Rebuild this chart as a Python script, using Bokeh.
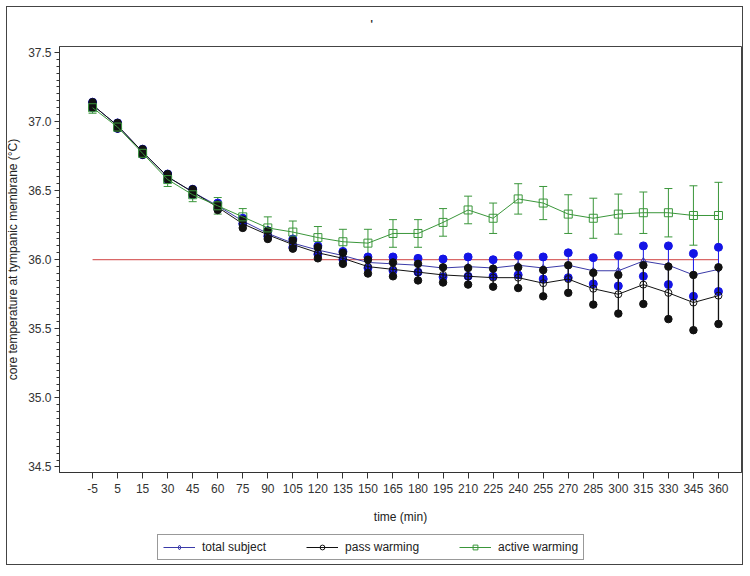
import numpy as np
from bokeh.plotting import figure
from bokeh.layouts import column
from bokeh.models import (Range1d, FixedTicker, Legend, LegendItem, Whisker,
                          TeeHead, ColumnDataSource, Title)
from bokeh.embed import file_html
from bokeh.resources import INLINE

# ---------------- data ----------------
time_labels = ["-5", "5", "15", "30", "45", "60", "75", "90", "105", "120", "135",
               "150", "165", "180", "195", "210", "225", "240", "255", "270",
               "285", "300", "315", "330", "345", "360"]

total_mean = [37.12, 36.97, 36.78, 36.60, 36.49, 36.39, 36.28, 36.19, 36.12, 36.07,
              36.03, 35.98, 35.97, 35.96, 35.94, 35.95, 35.94, 35.96, 35.94, 35.96,
              35.92, 35.92, 35.99, 35.96, 35.89, 35.93]
total_err = [0.02, 0.02, 0.02, 0.02, 0.02, 0.02, 0.02, 0.02, 0.03, 0.03,
             0.03, 0.04, 0.05, 0.05, 0.065, 0.07, 0.06, 0.07, 0.08, 0.09,
             0.095, 0.11, 0.11, 0.14, 0.155, 0.16]

pass_mean = [37.12, 36.97, 36.78, 36.60, 36.49, 36.38, 36.26, 36.18, 36.11, 36.05,
             36.01, 35.95, 35.93, 35.91, 35.89, 35.88, 35.87, 35.87, 35.83, 35.86,
             35.79, 35.75, 35.82, 35.76, 35.69, 35.74]
pass_err = [0.02, 0.02, 0.02, 0.02, 0.02, 0.02, 0.03, 0.03, 0.03, 0.04,
            0.04, 0.05, 0.05, 0.06, 0.055, 0.06, 0.065, 0.075, 0.095, 0.10,
            0.115, 0.14, 0.14, 0.19, 0.20, 0.205]

active_mean = [37.10, 36.96, 36.77, 36.58, 36.47, 36.39, 36.31, 36.23, 36.20, 36.16,
               36.13, 36.12, 36.19, 36.19, 36.27, 36.36, 36.30, 36.44, 36.41, 36.33,
               36.30, 36.33, 36.34, 36.34, 36.32, 36.32]
active_err = [0.04, 0.03, 0.03, 0.05, 0.05, 0.06, 0.06, 0.08, 0.08, 0.08,
              0.09, 0.10, 0.10, 0.10, 0.10, 0.10, 0.11, 0.11, 0.12, 0.14,
              0.145, 0.145, 0.15, 0.175, 0.215, 0.24]

reference_temp = 36.0
y_tick_values = [34.5, 35.0, 35.5, 36.0, 36.5, 37.0, 37.5]
y_tick_labels = ["34.5", "35.0", "35.5", "36.0", "36.5", "37.0", "37.5"]
series_names = ["total subject", "pass warming", "active warming"]

# ---------------- styling ----------------
FONT = "Liberation Sans"
BLUE_LINE = "#3a3aa8"
BLUE_DOT = "#1414e6"
BLACK = "#111111"
GREEN = "#3a963a"
RED = "#d04040"
AXIS = "#333333"

xs = np.arange(len(time_labels))

def src(mean, err):
    m = np.array(mean)
    e = np.array(err)
    return ColumnDataSource(dict(x=xs, y=m, lo=m - e, hi=m + e))

s_total = src(total_mean, total_err)
s_pass = src(pass_mean, pass_err)
s_active = src(active_mean, active_err)

p = figure(width=749, height=528, output_backend="svg", toolbar_location=None,
           x_range=Range1d(-1.32, 25.92), y_range=Range1d(34.46, 37.543),
           min_border_left=59, min_border_right=8, min_border_top=44,
           min_border_bottom=56, background_fill_color="white",
           border_fill_color=None)
p.outline_line_color = "#444444"
p.outline_line_width = 1
p.xgrid.visible = False
p.ygrid.visible = False

# small stray mark at the top of the reference image
p.add_layout(Title(text="'", align="left", offset=311, standoff=33,
                   text_font=FONT, text_font_size="10px",
                   text_font_style="bold", text_color="#222222"), "above")

# axes
p.xaxis.ticker = FixedTicker(ticks=list(xs))
p.xaxis.major_label_overrides = {int(i): lab for i, lab in zip(xs, time_labels)}
p.xaxis.minor_tick_line_color = None
p.xaxis.major_tick_in = 0
p.xaxis.major_tick_out = 6
p.xaxis.major_label_standoff = 5
p.xaxis.axis_label = "time (min)"
p.xaxis.axis_label_standoff = 14

minor = [round(34.5 + 0.05 * k, 2) for k in range(61)]
p.yaxis.ticker = FixedTicker(ticks=y_tick_values, minor_ticks=minor)
p.yaxis.major_label_overrides = {v: l for v, l in zip(y_tick_values, y_tick_labels)}
p.yaxis.major_tick_in = 0
p.yaxis.major_tick_out = 5
p.yaxis.minor_tick_in = 0
p.yaxis.minor_tick_out = 3
p.yaxis.major_label_standoff = 3
p.yaxis.axis_label = "core temperature at tympanic membrane (\u00b0C)"
p.yaxis.axis_label_standoff = 5

for ax in (p.xaxis[0], p.yaxis[0]):
    ax.axis_line_color = AXIS
    ax.major_tick_line_color = AXIS
    ax.major_label_text_font = FONT
    ax.major_label_text_font_size = "12px"
    ax.major_label_text_color = "#333333"
    ax.axis_label_text_font = FONT
    ax.axis_label_text_font_size = "12px"
    ax.axis_label_text_font_style = "normal"
    ax.axis_label_text_color = "#222222"
p.yaxis.minor_tick_line_color = AXIS

# reference line at 36.0 from first to last time point
p.line(x=[xs[0], xs[-1]], y=[reference_temp, reference_temp], line_color=RED,
       line_width=1)


def draw_series(fig, s, kind):
    """Draw one series into fig; returns (line renderer, point renderer)."""
    if kind == "pass":
        fig.segment(x0="x", y0="lo", x1="x", y1="hi", source=s, line_color=BLACK,
                    line_width=1.3)
        for col in ("lo", "hi"):
            fig.scatter(x="x", y=col, source=s, marker="circle", size=7.5,
                        fill_color=BLACK, line_color=BLACK)
        rl = fig.line(x="x", y="y", source=s, line_color=BLACK, line_width=1)
        rp = fig.scatter(x="x", y="y", source=s, marker="circle", size=7,
                         fill_color=None, line_color=BLACK, line_width=1)
    elif kind == "total":
        fig.segment(x0="x", y0="lo", x1="x", y1="hi", source=s,
                    line_color=BLUE_DOT, line_width=1)
        for col in ("lo", "hi"):
            fig.scatter(x="x", y=col, source=s, marker="circle", size=8,
                        fill_color=BLUE_DOT, line_color=BLUE_DOT)
        rl = fig.line(x="x", y="y", source=s, line_color=BLUE_LINE, line_width=1)
        rp = fig.scatter(x="x", y="y", source=s, marker="diamond", size=7,
                         fill_color=None, line_color=BLUE_LINE, line_width=1)
    else:
        wh = Whisker(base="x", lower="lo", upper="hi", source=s,
                     line_color=GREEN, line_width=1,
                     upper_head=TeeHead(size=8, line_color=GREEN, line_width=1),
                     lower_head=TeeHead(size=8, line_color=GREEN, line_width=1))
        fig.add_layout(wh)
        rl = fig.line(x="x", y="y", source=s, line_color=GREEN, line_width=1)
        rp = fig.scatter(x="x", y="y", source=s, marker="square", size=8,
                         fill_color=None, line_color=GREEN, line_width=1)
    return rl, rp


draw_series(p, s_total, "total")
draw_series(p, s_pass, "pass")
draw_series(p, s_active, "active")

# ---------------- legend strip below the chart ----------------
leg = figure(width=749, height=43, output_backend="svg", toolbar_location=None,
             x_range=Range1d(100, 101), y_range=Range1d(100, 101),
             x_axis_type=None, y_axis_type=None,
             min_border_left=0, min_border_right=0, min_border_top=0,
             min_border_bottom=0, background_fill_color=None,
             border_fill_color=None)
leg.outline_line_color = None
leg.xgrid.visible = False
leg.ygrid.visible = False
lt = draw_series(leg, s_total, "total")
lp = draw_series(leg, s_pass, "pass")
la = draw_series(leg, s_active, "active")

legend = Legend(items=[
    LegendItem(label=series_names[0], renderers=list(lt)),
    LegendItem(label=series_names[1], renderers=list(lp)),
    LegendItem(label=series_names[2], renderers=list(la)),
], orientation="horizontal", location=(98, 11))
legend.label_text_font = FONT
legend.label_text_font_size = "12px"
legend.label_text_color = "#222222"
legend.glyph_width = 32
legend.glyph_height = 12
legend.label_standoff = 7
legend.spacing = 40
legend.padding = 5
legend.margin = 0
legend.border_line_color = "#333333"
legend.border_line_width = 1
legend.background_fill_color = "white"
legend.background_fill_alpha = 1
leg.add_layout(legend, "center")

layout = column(p, leg, spacing=0,
                styles={"outline": "1px solid #444444", "outline-offset": "-7px"})

open("out.html", "w").write(file_html(layout, INLINE))
